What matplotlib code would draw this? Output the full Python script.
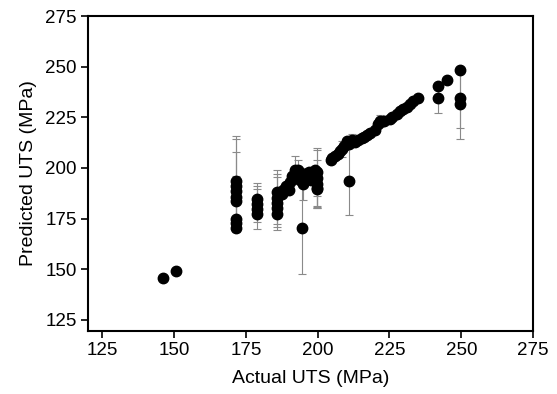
import matplotlib.pyplot as plt

plt.rcParams['font.family'] = ['Liberation Sans', 'DejaVu Sans']

# actual UTS, predicted UTS, error (MPa)
actual = [146.1, 150.6,
          171.5, 171.5, 171.5, 171.5, 171.5, 171.5, 171.5, 171.5,
          178.7, 178.7, 178.7, 178.7,
          185.9, 185.9, 185.9, 185.9, 185.9,
          187.5, 188.0, 189.0, 190.0, 190.5, 191.0, 192.0, 193.0, 193.5, 194.0,
          194.4, 195.0, 195.5, 196.0, 197.0, 197.5, 198.0, 199.0, 199.7, 199.7,
          199.8, 199.8, 199.9,
          204.5, 205.0, 206.0, 207.0, 207.8, 208.5, 209.0, 210.1, 211.0, 211.0,
          212.0, 213.0, 214.0, 215.3, 216.0, 217.0, 218.2, 220.0, 221.1, 221.7,
          223.0, 225.2, 226.0, 227.5, 228.7, 229.8, 231.0, 232.2, 233.3, 235.1,
          241.8, 241.8, 245.2, 249.6, 249.6, 249.6]
predicted = [145.5, 149.3,
             193.6, 191.2, 188.7, 185.5, 183.8, 174.9, 172.9, 170.5,
             184.8, 182.3, 179.8, 177.4,
             187.9, 185.0, 182.5, 180.0, 177.2,
             187.0, 189.0, 191.0, 189.0, 193.0, 196.0, 199.0, 199.0, 196.0, 194.0,
             170.6, 192.0, 197.0, 195.0, 198.0, 194.0, 197.0, 199.0, 198.0, 195.0,
             192.0, 190.0, 189.5,
             204.0, 205.0, 206.0, 207.0, 208.4, 209.5, 211.0, 213.3, 212.0, 193.6,
             214.0, 213.0, 214.0, 215.0, 215.5, 216.5, 217.4, 219.0, 221.5, 223.2,
             223.0, 224.0, 225.0, 226.5, 228.1, 229.0, 230.0, 231.4, 233.0, 234.7,
             240.4, 234.4, 243.4, 248.6, 234.7, 231.4]
error = [0, 0,
         22, 23, 19, 0, 12, 0, 0, 0,
         8, 9, 10, 0,
         9, 14, 13, 0, 5,
         0, 0, 0, 0, 0, 0, 7, 5, 0, 0,
         23, 8, 0, 0, 0, 0, 0, 0, 12, 14,
         12, 10, 9,
         0, 0, 0, 0, 0, 4, 0, 0, 0, 17,
         3, 0, 0, 0, 0, 0, 0, 0, 0, 3,
         0, 0, 0, 0, 0, 0, 0, 0, 0, 0,
         0, 7, 0, 0, 15, 17]

fig = plt.figure(figsize=(5.57, 3.94), dpi=100)
ax = fig.add_axes([0.158, 0.160, 0.799, 0.799])

ax.errorbar(actual, predicted, yerr=error, fmt='none', ecolor='#8a8a8a',
            elinewidth=0.8, capsize=3, capthick=0.8, zorder=1)
ax.plot(actual, predicted, 'o', color='black', markersize=7.5, zorder=2)

ax.set_xlim(120, 275)
ax.set_ylim(119.5, 275)
ax.set_xticks([125, 150, 175, 200, 225, 250, 275])
ax.set_yticks([125, 150, 175, 200, 225, 250, 275])
ax.tick_params(direction='out', length=5, width=1.2, labelsize=13.5,
               top=False, right=False, pad=3)
for s in ax.spines.values():
    s.set_linewidth(1.5)

ax.set_xlabel('Actual UTS (MPa)', fontsize=14, labelpad=8)
ax.set_ylabel('Predicted UTS (MPa)', fontsize=14, labelpad=6)

fig.savefig('out.png', dpi=100)
